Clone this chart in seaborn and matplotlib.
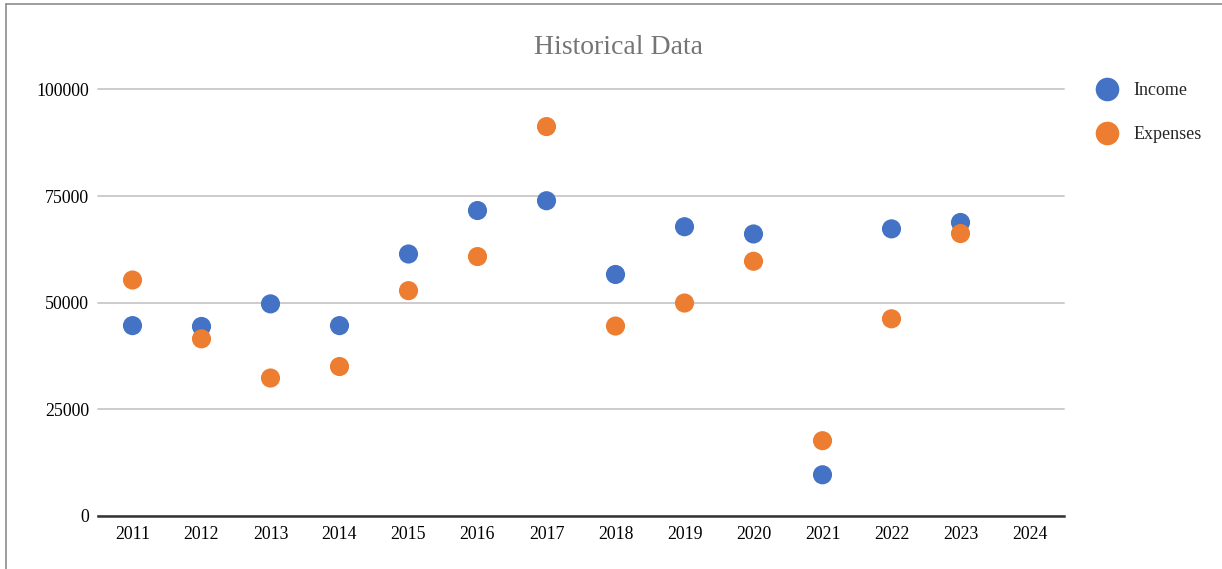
import matplotlib
matplotlib.use("Agg")
import matplotlib.pyplot as plt
from matplotlib.lines import Line2D
import seaborn as sns
import pandas as pd

years = ["2011", "2012", "2013", "2014", "2015", "2016", "2017",
         "2018", "2019", "2020", "2021", "2022", "2023", "2024"]
income = [44600, 44400, 49700, 44600, 61400, 71600, 73900,
          56600, 67800, 66100, 9600, 67300, 68800, None]
expenses = [55300, 41500, 32300, 35000, 52800, 60800, 91300,
            44500, 49900, 59700, 17600, 46200, 66200, None]
series_names = ["Income", "Expenses"]
colors = ["#4472C4", "#ED7D31"]
yticks = [0, 25000, 50000, 75000, 100000]

sns.set_theme(style="white")
plt.rcParams["font.family"] = ["Liberation Serif", "DejaVu Serif"]

rows = []
for y, a, b in zip(years, income, expenses):
    rows.append({"Year": y, "Series": "Income", "Value": a})
    rows.append({"Year": y, "Series": "Expenses", "Value": b})
df = pd.DataFrame(rows)

W, H = 1222, 569
fig = plt.figure(figsize=(W / 100, H / 100), dpi=100)
ax = fig.add_axes([98 / W, 1 - 515.7 / H, (1064 - 98) / W, (515.7 - 89.5) / H])

sns.scatterplot(data=df, x="Year", y="Value", hue="Series",
                hue_order=series_names, palette=colors, s=190,
                edgecolor="none", linewidth=0, ax=ax, legend=False, zorder=3)

ax.set_xlim(-0.5, len(years) - 0.5)
ax.set_xticks(range(len(years)))
ax.set_xticklabels(years)
ax.set_ylim(0, 100000)
ax.set_yticks(yticks)
ax.set_yticklabels([str(t) for t in yticks])
ax.set_xlabel("")
ax.set_ylabel("")
ax.grid(axis="y", color="#C8C8C8", linewidth=1.3)
ax.grid(axis="x", visible=False)
for gl in ax.get_ygridlines():
    gl.set_clip_on(False)
ax.set_axisbelow(True)
for side in ["top", "right", "left"]:
    ax.spines[side].set_visible(False)
ax.spines["bottom"].set_color("#333333")
ax.spines["bottom"].set_linewidth(1.8)
ax.spines["bottom"].set_zorder(4)
ax.tick_params(axis="both", length=0, labelsize=12.8, colors="black")
ax.tick_params(axis="y", pad=6.5)
ax.tick_params(axis="x", pad=7.5)

fig.text(618 / W, 1 - 47 / H, "Historical Data", ha="center", va="center",
         fontsize=20, color="#757575")

handles = [Line2D([], [], marker="o", linestyle="none", markersize=17,
                  markerfacecolor=c, markeredgecolor="none") for c in colors]
fig.legend(handles, series_names, loc="upper left",
           bbox_to_anchor=(1087 / W, 1 - 73 / H), frameon=False,
           fontsize=13, labelspacing=1.5, handletextpad=0.85,
           borderpad=0, handlelength=1.2)

fig.add_artist(Line2D([6 / W, 1], [1 - 4 / H, 1 - 4 / H], color="#8C8C8C",
                      linewidth=1.2, transform=fig.transFigure))
fig.add_artist(Line2D([6 / W, 6 / W], [0, 1 - 4 / H], color="#8C8C8C",
                      linewidth=1.2, transform=fig.transFigure))

fig.savefig("out.png", dpi=100)
